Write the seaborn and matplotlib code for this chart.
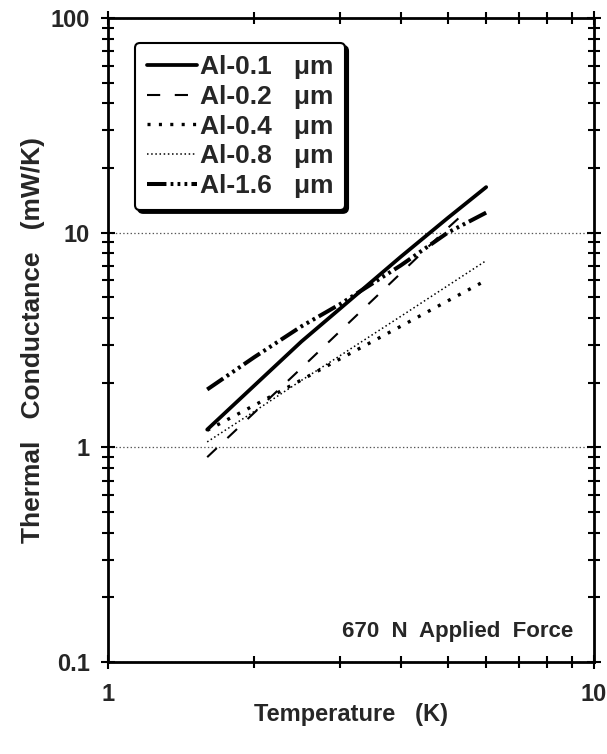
import numpy as np
import pandas as pd
import matplotlib
matplotlib.use("Agg")
import matplotlib.pyplot as plt
import seaborn as sns
from matplotlib.ticker import LogLocator, FixedLocator, FixedFormatter, NullFormatter

# ---- data ----
temps = [1.6, 2.0, 2.5, 3.0, 4.0, 5.0, 6.0]
temps_al02 = [1.6, 2.0, 2.5, 3.0, 4.0, 5.0, 5.4]
al_01 = [1.21, 1.94, 3.11, 4.42, 7.71, 11.7, 16.3]
al_02 = [0.90, 1.45, 2.34, 3.47, 6.46, 10.5, 12.3]
al_04 = [1.20, 1.57, 2.06, 2.58, 3.66, 4.81, 6.0]
al_08 = [1.06, 1.47, 2.05, 2.67, 4.07, 5.66, 7.41]
al_16 = [1.86, 2.63, 3.66, 4.64, 7.03, 10.0, 12.4]
labels = ["Al-0.1   \u03bcm", "Al-0.2   \u03bcm", "Al-0.4   \u03bcm", "Al-0.8   \u03bcm", "Al-1.6   \u03bcm"]
y_ticks = [0.1, 1, 10, 100]
y_tick_labels = ["0.1", "1", "10", "100"]
x_ticks = [1, 10]
x_tick_labels = ["1", "10"]
note = "670  N  Applied  Force"
xlabel = "Temperature   (K)"
ylabel = "Thermal   Conductance   (mW/K)"

sns.set_style("white")
plt.rcParams["font.family"] = ["Liberation Sans", "DejaVu Sans"]
plt.rcParams["font.weight"] = "bold"
plt.rcParams["lines.scale_dashes"] = False

fig = plt.figure(figsize=(6.07, 7.54), dpi=100)
ax = fig.add_axes([108/607, 1-662/754, 486/607, 644/754])

series = [
    (temps, al_01, labels[0], 2.7, "-"),
    (temps_al02, al_02, labels[1], 1.5, (0, (9.5, 10.5))),
    (temps, al_04, labels[2], 2.4, (0, (2.2, 6.0))),
    (temps, al_08, labels[3], 1.1, (0, (1.1, 1.9))),
    (temps, al_16, labels[4], 2.9, (0, (14, 3, 2, 3, 2, 3, 2, 3))),
]
for xs, ys, lab, lw, ls in series:
    df = pd.DataFrame({"T": xs, "G": ys})
    sns.lineplot(data=df, x="T", y="G", ax=ax, color="black", lw=lw,
                 linestyle=ls, label=lab, estimator=None, sort=False)

ax.set_xscale("log")
ax.set_yscale("log")
ax.set_xlim(1, 10)
ax.set_ylim(0.1, 100)

ax.xaxis.set_major_locator(FixedLocator(x_ticks))
ax.xaxis.set_major_formatter(FixedFormatter(x_tick_labels))
ax.yaxis.set_major_locator(FixedLocator(y_ticks))
ax.yaxis.set_major_formatter(FixedFormatter(y_tick_labels))
ax.xaxis.set_minor_locator(LogLocator(base=10, subs=np.arange(2, 10)))
ax.yaxis.set_minor_locator(LogLocator(base=10, subs=np.arange(2, 10)))
ax.xaxis.set_minor_formatter(NullFormatter())
ax.yaxis.set_minor_formatter(NullFormatter())

ax.tick_params(which="both", direction="inout", top=True, right=True,
               bottom=True, left=True, width=1.5, color="black")
ax.tick_params(which="major", length=10, labelsize=17)
ax.tick_params(which="minor", length=8)
ax.tick_params(axis="x", which="major", pad=10)
ax.tick_params(axis="y", which="major", pad=8)

for sp in ax.spines.values():
    sp.set_visible(True)
    sp.set_linewidth(2.0)
    sp.set_color("black")

ax.yaxis.grid(True, which="major", linestyle=":", color="#555555", linewidth=0.9)
ax.xaxis.grid(False)

ax.set_xlabel(xlabel, fontsize=17, fontweight="bold", labelpad=-2)
ax.set_ylabel(ylabel, fontsize=19, fontweight="bold", labelpad=4)

ax.text(0.957, 0.047, note, transform=ax.transAxes, ha="right", va="center",
        fontsize=16, fontweight="bold")

leg = ax.legend(loc="upper left", bbox_to_anchor=(0.056, 0.961), borderaxespad=0,
                prop={"size": 19, "weight": "bold"}, handlelength=1.9,
                handletextpad=0.1, labelspacing=0.22, borderpad=0.45,
                frameon=True, fancybox=True, shadow={"color": "black", "alpha": 1})
leg.get_frame().set_edgecolor("black")
leg.get_frame().set_linewidth(1.5)
leg.get_frame().set_facecolor("white")
leg.get_frame().set_alpha(1)

fig.savefig("out.png", dpi=100)
